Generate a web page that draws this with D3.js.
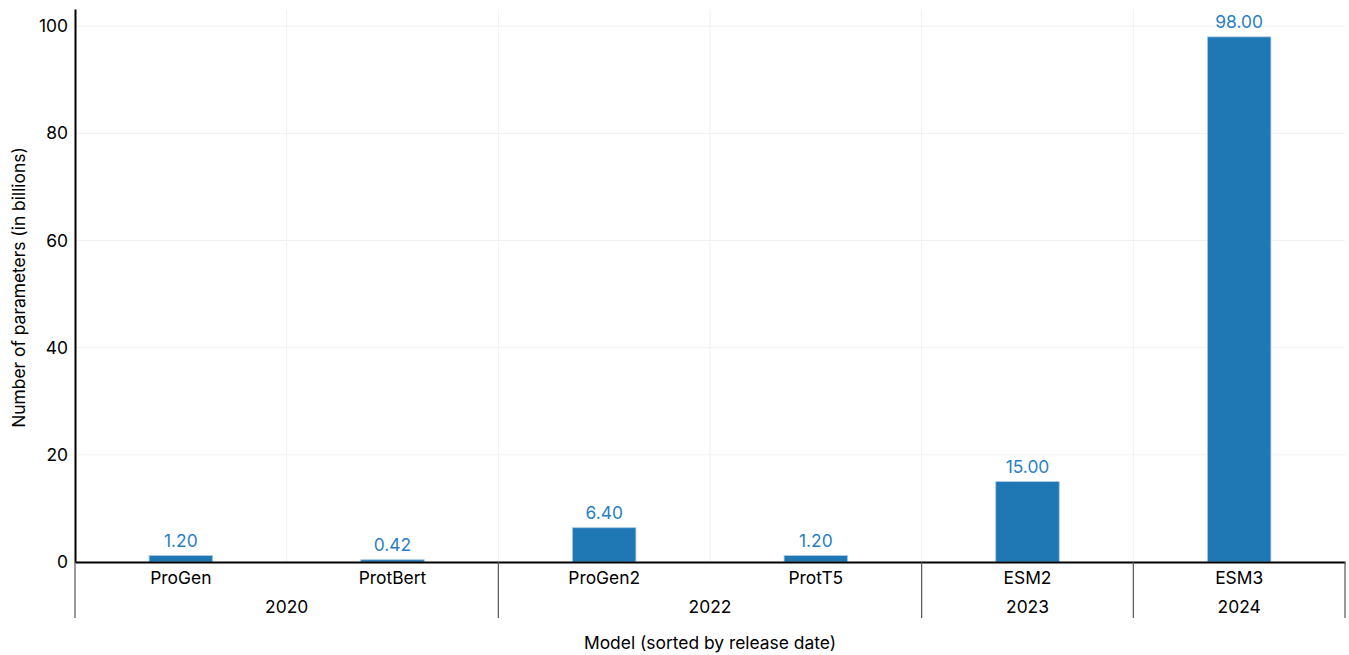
<!DOCTYPE html>
<html><head><meta charset="utf-8">
<script src="https://cdn.jsdelivr.net/npm/d3@7"></script>
<style>body{margin:0;background:#fff;}svg{display:block;font-family:Inter,"Noto Sans",sans-serif;}</style>
</head><body><svg id="c" width="1349" height="655"></svg>
<script>
const models = ["ProGen","ProtBert","ProGen2","ProtT5","ESM2","ESM3"];
const years = ["2020","2020","2022","2022","2023","2024"];
const params = [1.20,0.42,6.40,1.20,15.00,98.00];
const yTicks = [0,20,40,60,80,100];

const FS = 17.4;
const svg = d3.select("#c");
const L=75,R=1345,T=9,B=562;
const x = d3.scaleBand().domain(models).range([L,R]).paddingInner(0.7).paddingOuter(0.35);
const xb = d3.scaleBand().domain(models).range([L,R]);
const y = d3.scaleLinear().domain([0,103.2]).range([B,T]);

// grid
svg.append("g").selectAll("line").data(yTicks).join("line")
  .attr("x1",L).attr("x2",R).attr("y1",d=>y(d)).attr("y2",d=>y(d))
  .attr("stroke","#f0f0f0").attr("stroke-width",1);
svg.append("g").selectAll("line").data(models.slice(1)).join("line")
  .attr("x1",d=>xb(d)).attr("x2",d=>xb(d)).attr("y1",T).attr("y2",B)
  .attr("stroke","#f0f0f0").attr("stroke-width",1);

// bars
svg.append("g").selectAll("rect").data(models).join("rect")
  .attr("x",d=>x(d)).attr("width",x.bandwidth())
  .attr("y",(d,i)=>y(params[i])).attr("height",(d,i)=>B-y(params[i]))
  .attr("fill","#1f77b4").attr("stroke","#a9cbe6").attr("stroke-width",0.8);

svg.append("g").selectAll("text").data(models).join("text")
  .attr("x",d=>x(d)+x.bandwidth()/2).attr("y",(d,i)=>y(params[i])-9)
  .attr("text-anchor","middle").attr("fill","#2a7fc4").attr("font-size",FS)
  .text((d,i)=>params[i].toFixed(2));

// y axis
const ya = svg.append("g").attr("transform",`translate(${L},0)`)
  .call(d3.axisLeft(y).tickValues(yTicks).tickSize(0).tickPadding(7));
ya.select(".domain").attr("stroke","#000").attr("stroke-width",2);
ya.selectAll("text").attr("font-size",FS).attr("fill","#000").attr("font-family","Inter,sans-serif");

// x axis
const xa = svg.append("g").attr("transform",`translate(0,${B})`)
  .call(d3.axisBottom(xb).tickSize(0).tickPadding(10));
xa.select(".domain").attr("stroke","#000").attr("stroke-width",2);
xa.selectAll("text").attr("font-size",FS).attr("fill","#000").attr("font-family","Inter,sans-serif");

// year groups
const groups = [];
years.forEach((yr,i)=>{
  const g = groups.find(g=>g.year===yr);
  if(g){g.end=i;} else groups.push({year:yr,start:i,end:i});
});
const sepX = [L, ...groups.map(g=>xb(models[g.end])+xb.bandwidth())];
svg.append("g").selectAll("line").data(sepX).join("line")
  .attr("x1",d=>d).attr("x2",d=>d).attr("y1",B).attr("y2",618)
  .attr("stroke","#555").attr("stroke-width",1.2);
svg.append("g").selectAll("text").data(groups).join("text")
  .attr("x",g=>(xb(models[g.start])+xb(models[g.end])+xb.bandwidth())/2)
  .attr("y",613).attr("text-anchor","middle").attr("font-size",FS).attr("fill","#000")
  .text(g=>g.year);

// titles
svg.append("text").attr("x",(L+R)/2).attr("y",649).attr("text-anchor","middle")
  .attr("font-size",FS).attr("fill","#000").text("Model (sorted by release date)");
svg.append("text").attr("transform",`translate(25,${(T+B)/2+2}) rotate(-90)`)
  .attr("text-anchor","middle").attr("font-size",FS).attr("fill","#000")
  .text("Number of parameters (in billions)");
</script></body></html>
